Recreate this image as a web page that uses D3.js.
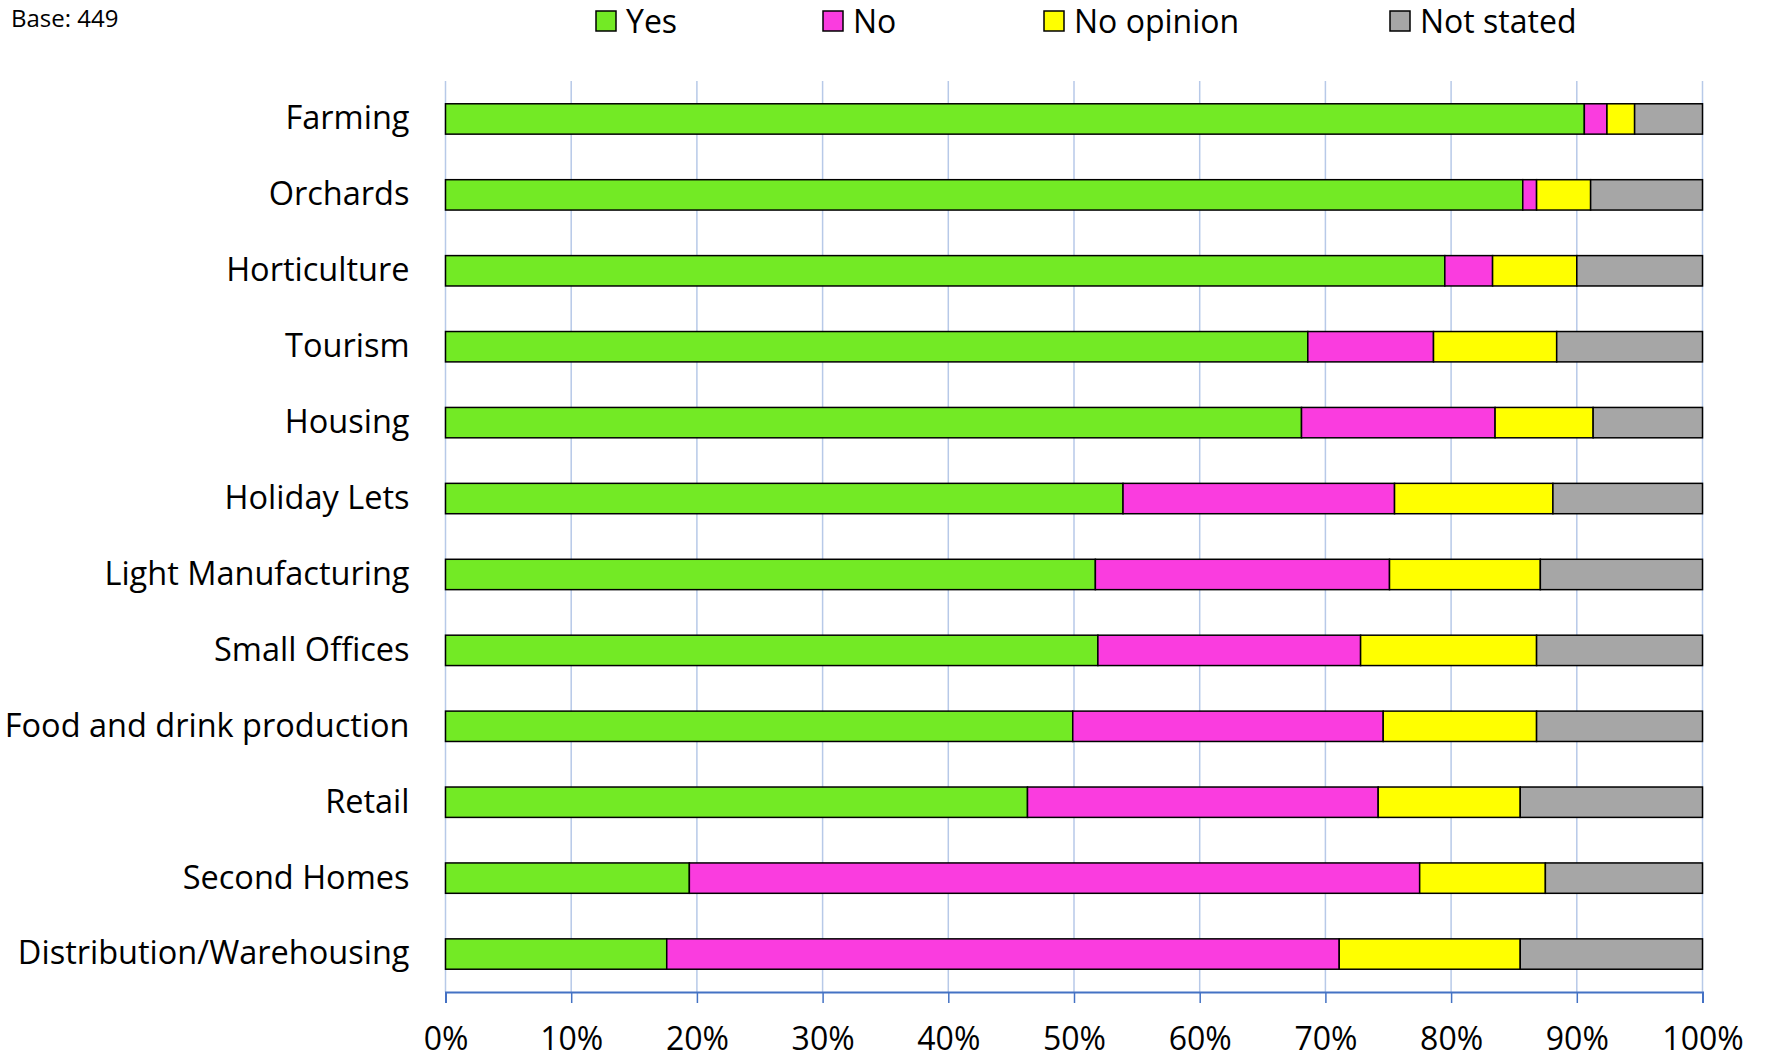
<!DOCTYPE html>
<html>
<head>
<meta charset="utf-8">
<script src="https://cdn.jsdelivr.net/npm/d3@7"></script>
<style>
  html, body { margin: 0; padding: 0; background: #ffffff; }
  svg { display: block; }
  text { font-family: "Open Sans", "Noto Sans", "Liberation Sans", sans-serif; fill: #000; }
</style>
</head>
<body>
<svg id="chart" width="1768" height="1058"></svg>
<script>
// ---- Data ----
const categories = [
  "Farming", "Orchards", "Horticulture", "Tourism", "Housing", "Holiday Lets",
  "Light Manufacturing", "Small Offices", "Food and drink production", "Retail",
  "Second Homes", "Distribution/Warehousing"
];
const seriesNames = ["Yes", "No", "No opinion", "Not stated"];
const yesValues       = [90.6, 85.7, 79.5, 68.6, 68.1, 53.9, 51.7, 51.9, 49.9, 46.3, 19.4, 17.6];
const noValues        = [ 1.8,  1.1,  3.8, 10.0, 15.4, 21.6, 23.4, 20.9, 24.7, 27.9, 58.1, 53.5];
const noOpinionValues = [ 2.2,  4.3,  6.7,  9.8,  7.8, 12.6, 12.0, 14.0, 12.2, 11.3, 10.0, 14.4];
const notStatedValues = [ 5.4,  8.9, 10.0, 11.6,  8.7, 11.9, 12.9, 13.2, 13.2, 14.5, 12.5, 14.5];
const tickValues = [0, 10, 20, 30, 40, 50, 60, 70, 80, 90, 100];
const baseLabel = "Base: 449";

// ---- Styles ----
const colors = ["#73EA25", "#FA3CDF", "#FFFF00", "#A6A6A6"];

const svg = d3.select("#chart");
const margin = { left: 445.5, right: 1702.5, top: 81, bottom: 992 };

const x = d3.scaleLinear().domain([0, 100]).range([margin.left, margin.right]);
const y = d3.scaleBand().domain(categories).range([margin.top, margin.bottom])
  .paddingInner(0.6).paddingOuter(0.3);

// Build table
const table = categories.map((c, i) => ({
  category: c,
  "Yes": yesValues[i],
  "No": noValues[i],
  "No opinion": noOpinionValues[i],
  "Not stated": notStatedValues[i]
}));
const stacked = d3.stack().keys(seriesNames)(table);

// Gridlines
svg.append("g").selectAll("line").data(tickValues).join("line")
  .attr("x1", d => x(d)).attr("x2", d => x(d))
  .attr("y1", margin.top).attr("y2", margin.bottom)
  .attr("stroke", "#B7C9E8").attr("stroke-width", 1.5);

// Bars
svg.append("g").selectAll("g").data(stacked).join("g")
  .attr("fill", (d, i) => colors[i])
  .selectAll("rect").data(d => d).join("rect")
  .attr("x", d => x(d[0]))
  .attr("width", d => x(d[1]) - x(d[0]))
  .attr("y", d => y(d.data.category))
  .attr("height", y.bandwidth())
  .attr("stroke", "#000").attr("stroke-width", 1.5);

// X axis
const xAxis = d3.axisBottom(x).tickValues(tickValues).tickSize(11).tickPadding(24)
  .tickFormat(d => d + "%");
const gx = svg.append("g").attr("transform", `translate(0,${margin.bottom})`).call(xAxis);
gx.select(".domain").attr("stroke", "#4472C4").attr("stroke-width", 2);
gx.selectAll(".tick line").attr("stroke", "#4472C4").attr("stroke-width", 1.5);
gx.selectAll(".tick text").attr("font-size", 32).attr("font-family", "Open Sans").attr("fill", "#000");

// Y axis labels
const yAxis = d3.axisLeft(y).tickSize(0).tickPadding(36);
const gy = svg.append("g").attr("transform", `translate(${margin.left},0)`).call(yAxis);
gy.select(".domain").remove();
gy.selectAll(".tick text").attr("font-size", 32.5).attr("font-family", "Open Sans").attr("fill", "#000");

// Legend
const legendX = [596, 823, 1044, 1390];
const lg = svg.append("g").selectAll("g").data(seriesNames).join("g")
  .attr("transform", (d, i) => `translate(${legendX[i]},11)`);
lg.append("rect").attr("width", 20).attr("height", 20)
  .attr("fill", (d, i) => colors[i]).attr("stroke", "#000").attr("stroke-width", 1.5);
lg.append("text").attr("x", 30).attr("y", 10).attr("dy", "0.36em")
  .attr("font-size", 32).text(d => d);

// Base label
svg.append("text").attr("x", 11).attr("y", 27).attr("font-size", 24).text(baseLabel);
</script>
</body>
</html>
